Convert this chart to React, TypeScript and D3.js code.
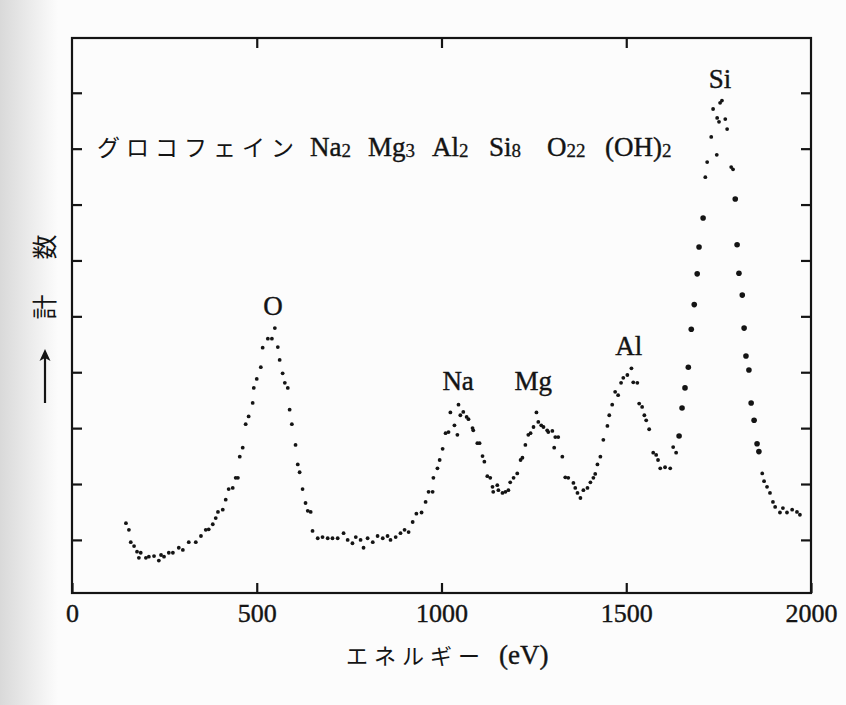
import * as d3 from "d3";
import { useEffect, useRef } from "react";

const W = 846;
const H = 705;

const energyTicks = [0, 500, 1000, 1500, 2000];
const countTicks = [1, 2, 3, 4, 5, 6, 7, 8, 9];

// peak name, energy (eV), count where the label sits
const peakNames = ["O", "Na", "Mg", "Al", "Si"];
const peakEnergy = [544, 1045, 1248, 1507, 1754];
const peakCount = [5.02, 3.68, 3.68, 4.31, 9.09];

// [energy eV, counts] small dots
const spectrum: [number, number][] = [
  [146, 1.3], [154, 1.18], [159, 0.96], [168, 0.89], [176, 0.79], [181, 0.68], [186, 0.77],
  [200, 0.68], [208, 0.7], [222, 0.71], [235, 0.63], [241, 0.73], [249, 0.7], [262, 0.77],
  [273, 0.77], [289, 0.86], [300, 0.82], [316, 0.96], [335, 0.96], [349, 1.07], [362, 1.18],
  [370, 1.19], [381, 1.28], [389, 1.39], [395, 1.5], [408, 1.54], [416, 1.72], [424, 1.91],
  [435, 1.93], [443, 2.11], [449, 2.11], [454, 2.49], [462, 2.65], [470, 3.07], [478, 3.21],
  [489, 3.45], [492, 3.72], [500, 3.88], [511, 4.09], [516, 4.44], [530, 4.6], [541, 4.6],
  [549, 4.79], [557, 4.45], [562, 4.22], [570, 3.98], [576, 3.81], [584, 3.72], [589, 3.33],
  [595, 3.07], [605, 2.7], [611, 2.35], [616, 2.21], [624, 1.91], [632, 1.66], [638, 1.52],
  [646, 1.5], [651, 1.16], [665, 1.03], [678, 1.05], [692, 1.03], [705, 1.03], [719, 1.03],
  [735, 1.12], [746, 1.0], [759, 0.94], [768, 1.05], [781, 1.0], [789, 0.86], [800, 1.03],
  [814, 0.96], [827, 1.07], [841, 1.03], [854, 1.07], [862, 1.0], [876, 1.05], [889, 1.12],
  [900, 1.18], [911, 1.14], [922, 1.32], [932, 1.47], [946, 1.49], [957, 1.68], [965, 1.86],
  [976, 1.86], [978, 2.11], [989, 2.28], [995, 2.43], [1003, 2.63], [1011, 2.91], [1019, 2.93],
  [1024, 3.28], [1035, 3.05], [1043, 2.88], [1046, 3.42], [1051, 3.23], [1059, 3.29],
  [1068, 3.2], [1073, 3.16], [1084, 3.0], [1086, 2.96], [1097, 2.73], [1103, 2.73],
  [1111, 2.5], [1116, 2.4], [1124, 2.14], [1132, 2.11], [1138, 1.95], [1140, 1.86],
  [1151, 1.98], [1154, 1.89], [1165, 1.84], [1173, 1.86], [1181, 1.89], [1186, 2.03],
  [1195, 2.11], [1205, 2.19], [1214, 2.43], [1219, 2.47], [1227, 2.7], [1235, 2.88],
  [1241, 2.91], [1249, 3.02], [1257, 3.28], [1262, 3.11], [1270, 3.05], [1276, 3.02],
  [1286, 2.96], [1289, 2.93], [1300, 2.95], [1305, 2.65], [1308, 2.84], [1316, 2.84],
  [1327, 2.49], [1335, 2.12], [1343, 2.11], [1357, 2.02], [1362, 1.93], [1368, 1.84],
  [1376, 1.75], [1384, 1.89], [1395, 1.93], [1403, 2.03], [1411, 2.11], [1416, 2.18],
  [1422, 2.35], [1430, 2.49], [1438, 2.79], [1449, 3.04], [1454, 3.23], [1462, 3.42],
  [1470, 3.65], [1478, 3.59], [1486, 3.81], [1492, 3.9], [1503, 3.95], [1514, 4.07],
  [1519, 3.82], [1530, 3.81], [1535, 3.44], [1543, 3.38], [1549, 3.23], [1554, 3.14],
  [1562, 2.98], [1573, 2.56], [1581, 2.52], [1586, 2.43], [1592, 2.28], [1605, 2.3],
  [1619, 2.28], [1627, 2.66], [1635, 2.56],
  [1714, 7.49], [1719, 7.76], [1730, 8.21], [1735, 8.71], [1745, 7.89], [1746, 8.55],
  [1751, 8.48], [1754, 8.82], [1759, 8.86], [1768, 8.53], [1773, 8.35], [1784, 7.67],
  [1789, 7.63],
  [1868, 2.19], [1873, 2.05], [1881, 1.95], [1889, 1.84], [1897, 1.68], [1903, 1.59],
  [1916, 1.49], [1924, 1.57], [1935, 1.49], [1949, 1.54], [1962, 1.5], [1970, 1.45],
];

// [energy eV, counts] heavy dots on the Si flanks
const siFlanks: [number, number][] = [
  [1643, 2.86], [1651, 3.36], [1659, 3.72], [1668, 4.09], [1676, 4.77], [1684, 5.21],
  [1692, 5.76], [1697, 6.24], [1708, 6.76],
  [1795, 7.1], [1800, 6.28], [1805, 5.77], [1814, 5.38], [1819, 4.79], [1824, 4.29],
  [1832, 4.04], [1838, 3.45], [1846, 3.14], [1854, 2.72], [1859, 2.58],
];

const formula = [
  ["Na", "2"], ["Mg", "3"], ["Al", "2"], ["Si", "8"], ["O", "22"], ["(OH)", "2"],
];

const serif = "'Liberation Serif', 'DejaVu Serif', serif";
const cjk = "'Noto Sans CJK JP', sans-serif";
const ink = "#141414";

const App = () => {
  const ref = useRef<SVGSVGElement>(null);

  useEffect(() => {
    const svg = d3.select(ref.current);
    svg.selectAll("*").remove();

    const left = 72, right = 811, top = 38, bottom = 593;
    const x = d3.scaleLinear().domain([0, 2000]).range([left, right]);
    const y = d3.scaleLinear().domain([0.05, 9.98]).range([bottom, top]);

    const defs = svg.append("defs");
    const grad = defs.append("linearGradient").attr("id", "scan").attr("x1", 0).attr("x2", 1);
    grad.append("stop").attr("offset", 0).attr("stop-color", "#d9d9d9");
    grad.append("stop").attr("offset", 1).attr("stop-color", "#fcfcfc");

    svg.append("rect").attr("width", W).attr("height", H).attr("fill", "#fcfcfc");
    svg.append("rect").attr("width", 58).attr("height", H).attr("fill", "url(#scan)");

    // frame
    svg.append("rect")
      .attr("x", left).attr("y", top)
      .attr("width", right - left).attr("height", bottom - top)
      .attr("fill", "none").attr("stroke", ink).attr("stroke-width", 2.2);

    const axB = svg.append("g").attr("transform", `translate(0,${bottom})`)
      .call(d3.axisBottom(x).tickValues(energyTicks).tickSizeInner(-10).tickSizeOuter(0).tickPadding(11).tickFormat(d3.format("d")));
    const axT = svg.append("g").attr("transform", `translate(0,${top})`)
      .call(d3.axisTop(x).tickValues(energyTicks.slice(1, -1)).tickSizeInner(-10).tickSizeOuter(0).tickFormat(() => ""));
    const axL = svg.append("g").attr("transform", `translate(${left},0)`)
      .call(d3.axisLeft(y).tickValues(countTicks).tickSizeInner(-10).tickSizeOuter(0).tickFormat(() => ""));
    const axR = svg.append("g").attr("transform", `translate(${right},0)`)
      .call(d3.axisRight(y).tickValues(countTicks).tickSizeInner(-10).tickSizeOuter(0).tickFormat(() => ""));

    [axB, axT, axL, axR].forEach((g) => {
      g.select(".domain").remove();
      g.selectAll(".tick line").attr("stroke", ink).attr("stroke-width", 2.2);
    });
    axB.selectAll(".tick text")
      .attr("fill", ink).attr("stroke", ink).attr("stroke-width", 0.4)
      .style("font-family", serif).style("font-size", "26px");

    // dots
    svg.append("g").selectAll("circle").data(spectrum).enter().append("circle")
      .attr("cx", (d) => x(d[0])).attr("cy", (d) => y(d[1])).attr("r", 1.9).attr("fill", ink);
    svg.append("g").selectAll("circle").data(siFlanks).enter().append("circle")
      .attr("cx", (d) => x(d[0])).attr("cy", (d) => y(d[1])).attr("r", 2.8).attr("fill", ink);

    // peak names
    svg.append("g").selectAll("text").data(peakNames).enter().append("text")
      .attr("x", (d, i) => x(peakEnergy[i])).attr("y", (d, i) => y(peakCount[i]))
      .attr("text-anchor", "middle").attr("fill", ink).attr("stroke", ink).attr("stroke-width", 0.4)
      .style("font-family", serif).style("font-size", "27px")
      .text((d) => d);

    // title
    const t = svg.append("text").attr("y", 156).attr("fill", ink);
    t.append("tspan").attr("x", 97).style("font-family", cjk).style("font-size", "23px")
      .attr("letter-spacing", 6).text("グロコフェイン");
    const fx = [310, 368, 432, 489, 547, 605];
    formula.forEach(([sym, sub], i) => {
      t.append("tspan").attr("x", fx[i]).attr("y", 156).attr("stroke", ink).attr("stroke-width", 0.4)
        .style("font-family", serif).style("font-size", "27px").text(sym);
      t.append("tspan").attr("dy", 1).attr("stroke", ink).attr("stroke-width", 0.3)
        .style("font-family", serif).style("font-size", "19px").text(sub);
    });

    // x label
    const xl = svg.append("text").attr("y", 664).attr("fill", ink);
    xl.append("tspan").attr("x", 346).style("font-family", cjk).style("font-size", "22px")
      .attr("letter-spacing", 6).text("エネルギー");
    xl.append("tspan").attr("x", 499).attr("stroke", ink).attr("stroke-width", 0.4)
      .style("font-family", serif).style("font-size", "27px").text("(eV)");

    // y label
    const yl = svg.append("g").attr("transform", "translate(43,0) rotate(-90)");
    const ylt = yl.append("text").attr("fill", ink).attr("text-anchor", "middle")
      .attr("dominant-baseline", "central").style("font-family", cjk).style("font-size", "25px");
    ylt.append("tspan").attr("x", -307).attr("y", 0).text("計");
    ylt.append("tspan").attr("x", -247).attr("y", 0).text("数");
    svg.append("line").attr("x1", 45).attr("x2", 45).attr("y1", 403).attr("y2", 358)
      .attr("stroke", ink).attr("stroke-width", 2.2);
    svg.append("path").attr("d", "M45,349 L39.5,361 L45,358 L50.5,361 Z").attr("fill", ink);
  }, []);

  return (
    <svg ref={ref} width={W} height={H} style={{ position: "absolute", left: 0, top: 0 }} />
  );
};

export default App;
